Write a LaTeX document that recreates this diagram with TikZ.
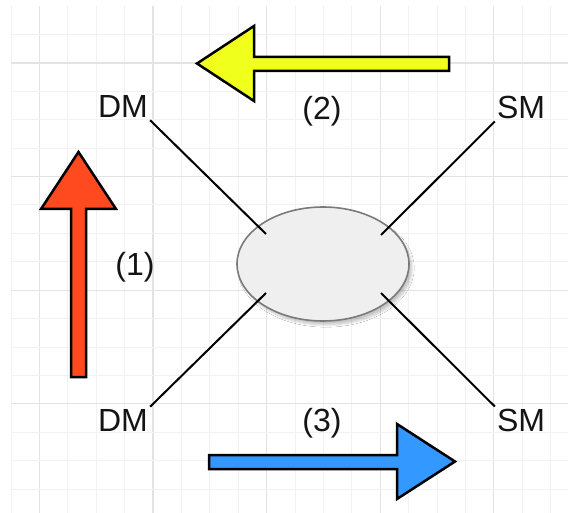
\documentclass[tikz,border=0pt]{standalone}
\usepackage{fontspec}
\setmainfont{Liberation Sans}
\usetikzlibrary{calc,shapes.geometric,shadows.blur}

\definecolor{gridminor}{HTML}{F1F1F1}
\definecolor{gridmajor}{HTML}{E3E3E3}
\definecolor{arrowyellow}{HTML}{F0FF1C}
\definecolor{arrowred}{HTML}{FF4A20}
\definecolor{arrowblue}{HTML}{3398FF}
\definecolor{hubfill}{HTML}{EFEFEF}
\definecolor{hubline}{HTML}{7A7A7A}

\tikzset{
  label text/.style={font=\fontsize{32}{36}\selectfont, inner sep=2pt, text=black!92},
  link/.style={draw=black, line width=2pt},
  hub/.style={ellipse, draw=hubline, line width=1.6pt, fill=hubfill,
    minimum width=172pt, minimum height=114pt, inner sep=0pt,
    blur shadow={shadow xshift=3pt, shadow yshift=-4pt, shadow blur steps=10, shadow opacity=22}},
  fat arrow/.style={draw=black, line width=2.5pt, line join=miter},
}

\begin{document}
\begin{tikzpicture}[x=1pt, y=-1pt]
  \useasboundingbox (0,0) rectangle (568,513);
  \fill[white] (0,0) rectangle (568,513);

  % background grid
  \foreach \k in {-1,...,18} {
    \pgfmathsetmacro{\gx}{39.4+28.4*\k}
    \pgfmathtruncatemacro{\m}{mod(\k+4,4)}
    \ifnum\m=0
      \draw[gridmajor, line width=1.1pt] (\gx,6) -- (\gx,513);
    \else
      \draw[gridminor, line width=1pt] (\gx,6) -- (\gx,513);
    \fi
  }
  \foreach \k in {-1,...,15} {
    \pgfmathsetmacro{\gy}{63+28.4*\k}
    \pgfmathtruncatemacro{\m}{mod(\k+4,4)}
    \ifnum\m=0
      \draw[gridmajor, line width=1.1pt] (11,\gy) -- (568,\gy);
    \else
      \draw[gridminor, line width=1pt] (11,\gy) -- (568,\gy);
    \fi
  }

  % central ellipse
  \node[hub] (hub) at (323,264) {};

  % corner labels
  \node[label text, anchor=base] (dmtop) at (123,118) {DM};
  \node[label text, anchor=base] (smtop) at (521,119) {SM};
  \node[label text, anchor=base] (dmbot) at (123,431) {DM};
  \node[label text, anchor=base] (smbot) at (521,431) {SM};

  % step labels
  \node[label text, anchor=base] (one)   at (135,276) {(1)};
  \node[label text, anchor=base] (two)   at (322,120) {(2)};
  \node[label text, anchor=base] (three) at (322,431) {(3)};

  % inner ends of the spokes
  \coordinate (hubnw) at ($(hub.center)+(-57,-30)$);
  \coordinate (hubne) at ($(hub.center)+(58,-29)$);
  \coordinate (hubsw) at ($(hub.center)+(-57,29)$);
  \coordinate (hubse) at ($(hub.center)+(58,29)$);

  % spokes
  \draw[link] (dmtop.south east) -- (hubnw);
  \draw[link] (smtop.south west) -- (hubne);
  \draw[link] (dmbot.north east) -- (hubsw);
  \draw[link] (smbot.north west) -- (hubse);

  % block arrows
  \draw[fat arrow, fill=arrowred]
    (71,377) -- (71,209) -- (41,209) -- (78.5,152) -- (116,209) -- (86,209) -- (86,377) -- cycle;
  \draw[fat arrow, fill=arrowyellow]
    (449,57) -- (254,57) -- (254,26) -- (197,63.5) -- (254,101) -- (254,71) -- (449,71) -- cycle;
  \draw[fat arrow, fill=arrowblue]
    (209,455) -- (397,455) -- (397,424) -- (455,461.5) -- (397,499) -- (397,469) -- (209,469) -- cycle;
\end{tikzpicture}
\end{document}
